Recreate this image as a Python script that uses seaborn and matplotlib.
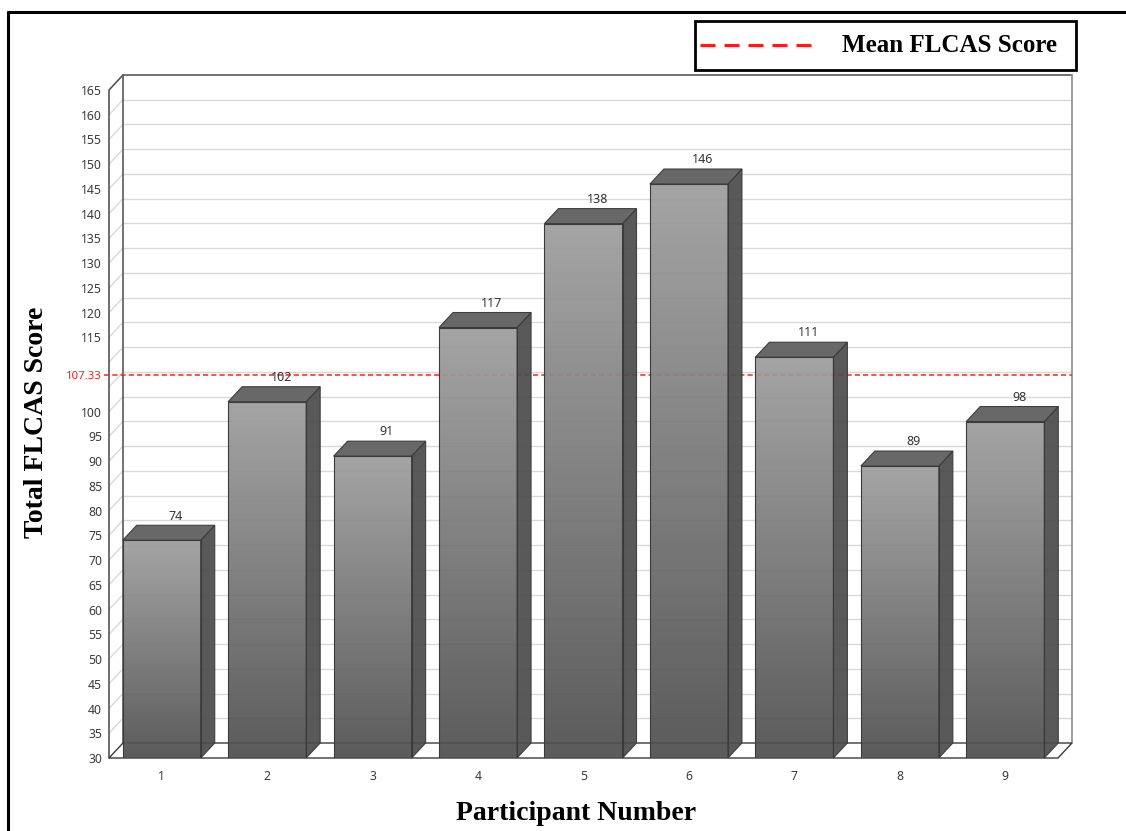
import numpy as np
import pandas as pd
import matplotlib
matplotlib.use("Agg")
import matplotlib.pyplot as plt
import seaborn as sns
from matplotlib.patches import Polygon, Rectangle
from matplotlib.lines import Line2D
from matplotlib.colors import LinearSegmentedColormap

# ---- data -------------------------------------------------------------
participants = ["1", "2", "3", "4", "5", "6", "7", "8", "9"]
scores = [74, 102, 91, 117, 138, 146, 111, 89, 98]
mean_score = 107.33
# 105 and 110 make room for the mean label
y_ticks = [30, 35, 40, 45, 50, 55, 60, 65, 70, 75, 80, 85, 90, 95, 100,
           115, 120, 125, 130, 135, 140, 145, 150, 155, 160, 165]
x_title = "Participant Number"
y_title = "Total FLCAS Score"
legend_label = "Mean FLCAS Score"

# ---- figure -----------------------------------------------------------
W, H, DPI = 1126, 831, 100
sns.set_theme(style="white")
plt.rcParams["font.family"] = ["Noto Sans", "DejaVu Sans"]
serif = ["Liberation Serif", "DejaVu Serif"]

fig = plt.figure(figsize=(W / DPI, H / DPI), dpi=DPI)
fig.patch.set_facecolor("white")

# front plane of the 3D box, in pixels
ax_l, ax_b, ax_w, ax_h = 109, 73, 949, 668
ax = fig.add_axes([ax_l / W, ax_b / H, ax_w / W, ax_h / H])
ax.patch.set_alpha(0)

df = pd.DataFrame({"participant": participants, "score": scores})
sns.barplot(data=df, x="participant", y="score", order=participants, ax=ax,
            width=0.74, color="#888888", saturation=1,
            edgecolor="#3a3a3a", linewidth=0.8, zorder=4)

x0, x1 = -0.5, len(participants) - 0.5
y0, y1 = 30, 165
ax.set_xlim(x0, x1)
ax.set_ylim(y0, y1)

# depth of the box: 14 px to the right, 15 px up
dx = 14 * (x1 - x0) / ax_w
dy = 15 * (y1 - y0) / ax_h

# ---- walls and floor --------------------------------------------------
grid_c = "#d9d9d9"
for v in range(y0 + 5, y1, 5):
    ax.plot([x0 + dx, x1 + dx], [v + dy, v + dy], color=grid_c, lw=1,
            zorder=1, clip_on=False)
    ax.plot([x0, x0 + dx], [v, v + dy], color=grid_c, lw=1,
            zorder=1, clip_on=False)

# back wall frame
ax.plot([x0 + dx, x0 + dx, x1 + dx], [y0 + dy, y1 + dy, y1 + dy],
        color="#5a5a5a", lw=1.2, zorder=1.5, clip_on=False)
ax.plot([x1 + dx, x1 + dx], [y0 + dy, y1 + dy],
        color="#8c8c8c", lw=1.2, zorder=1.5, clip_on=False)
# left wall front edge and top diagonal
ax.plot([x0, x0, x0 + dx], [y0, y1, y1 + dy],
        color="#555555", lw=1.2, zorder=1.5, clip_on=False)

floor = Polygon([(x0, y0), (x1, y0), (x1 + dx, y0 + dy), (x0 + dx, y0 + dy)],
                closed=True, facecolor="white", edgecolor="#3a3a3a", lw=1,
                zorder=2, clip_on=False)
ax.add_patch(floor)

# ---- mean line --------------------------------------------------------
tick_ext = 5 * (x1 - x0) / ax_w
ax.plot([x0 - tick_ext, x1 + dx], [mean_score, mean_score], color="#ff2020",
        lw=1.1, ls=(0, (3.4, 2.0)), zorder=2.5, clip_on=False)

# ---- 3D bars ----------------------------------------------------------
front_cmap = LinearSegmentedColormap.from_list("front", ["#4f4f4f", "#9e9e9e"])
bar_alpha = 0.93
grad = np.linspace(0, 1, 256).reshape(-1, 1)

for patch, value in zip(ax.patches, scores):
    bx = patch.get_x()
    bw = patch.get_width()
    top = value
    patch.set_facecolor("none")
    ax.imshow(grad, extent=[bx, bx + bw, y0, top], origin="lower",
              aspect="auto", cmap=front_cmap, alpha=bar_alpha, zorder=3.5)
    side = Polygon([(bx + bw, y0), (bx + bw, top), (bx + bw + dx, top + dy),
                    (bx + bw + dx, y0 + dy)], closed=True,
                   facecolor="#4c4c4c", edgecolor="#3a3a3a", lw=0.8,
                   alpha=bar_alpha, zorder=3.6, clip_on=False)
    ax.add_patch(side)
    cap = Polygon([(bx, top), (bx + bw, top), (bx + bw + dx, top + dy),
                   (bx + dx, top + dy)], closed=True,
                  facecolor="#626262", edgecolor="#3a3a3a", lw=0.8,
                  alpha=0.96, zorder=3.6, clip_on=False)
    ax.add_patch(cap)
    ax.annotate(f"{value}", (bx + bw / 2 + dx, top + dy), xytext=(0, 2),
                textcoords="offset points", ha="center", va="bottom",
                fontsize=9, color="#333333", zorder=6, annotation_clip=False)

ax.set_xlim(x0, x1)
ax.set_ylim(y0, y1)

# ---- axes text --------------------------------------------------------
for s in ax.spines.values():
    s.set_visible(False)

ticks = y_ticks + [mean_score]
ax.set_yticks(ticks)
ax.set_yticklabels([str(t) for t in y_ticks] + [f"{mean_score:.2f}"])
ax.tick_params(axis="y", length=0, pad=5, labelsize=8.8, labelcolor="#3a3a3a")
ax.get_yticklabels()[-1].set_color("#f02020")
ax.get_yticklabels()[-1].set_fontsize(8.2)
ax.tick_params(axis="x", length=0, pad=9, labelsize=8.8, labelcolor="#3a3a3a")

ax.set_xlabel(x_title, family=serif, fontweight="bold", fontsize=20,
              color="black", va="center")
ax.xaxis.set_label_coords((576 - ax_l) / ax_w, (H - ax_b - 813) / ax_h)
ax.set_ylabel(y_title, family=serif, fontweight="bold", fontsize=20,
              color="black", va="center")
ax.yaxis.set_label_coords((37 - ax_l) / ax_w, (H - ax_b - 422) / ax_h)

# ---- legend box -------------------------------------------------------
fig.add_artist(Rectangle((695 / W, 1 - 70 / H), 381 / W, 49 / H,
                         transform=fig.transFigure, facecolor="white",
                         edgecolor="black", lw=2))
fig.add_artist(Line2D([700 / W, 815 / W], [1 - 45 / H, 1 - 45 / H],
                      transform=fig.transFigure, color="#ff1a1a", lw=2.2,
                      ls=(0, (4.9, 2.95))))
fig.text(842 / W, 1 - 45 / H, legend_label, family=serif, fontweight="bold",
         fontsize=18, va="center", ha="left", color="black")

# ---- outer frame ------------------------------------------------------
fig.add_artist(Line2D([8 / W, 8 / W], [0, 1 - 12 / H],
                      transform=fig.transFigure, color="black", lw=2.2))
fig.add_artist(Line2D([8 / W, 1], [1 - 12 / H, 1 - 12 / H],
                      transform=fig.transFigure, color="black", lw=2.2))

fig.savefig("out.png", dpi=DPI)
